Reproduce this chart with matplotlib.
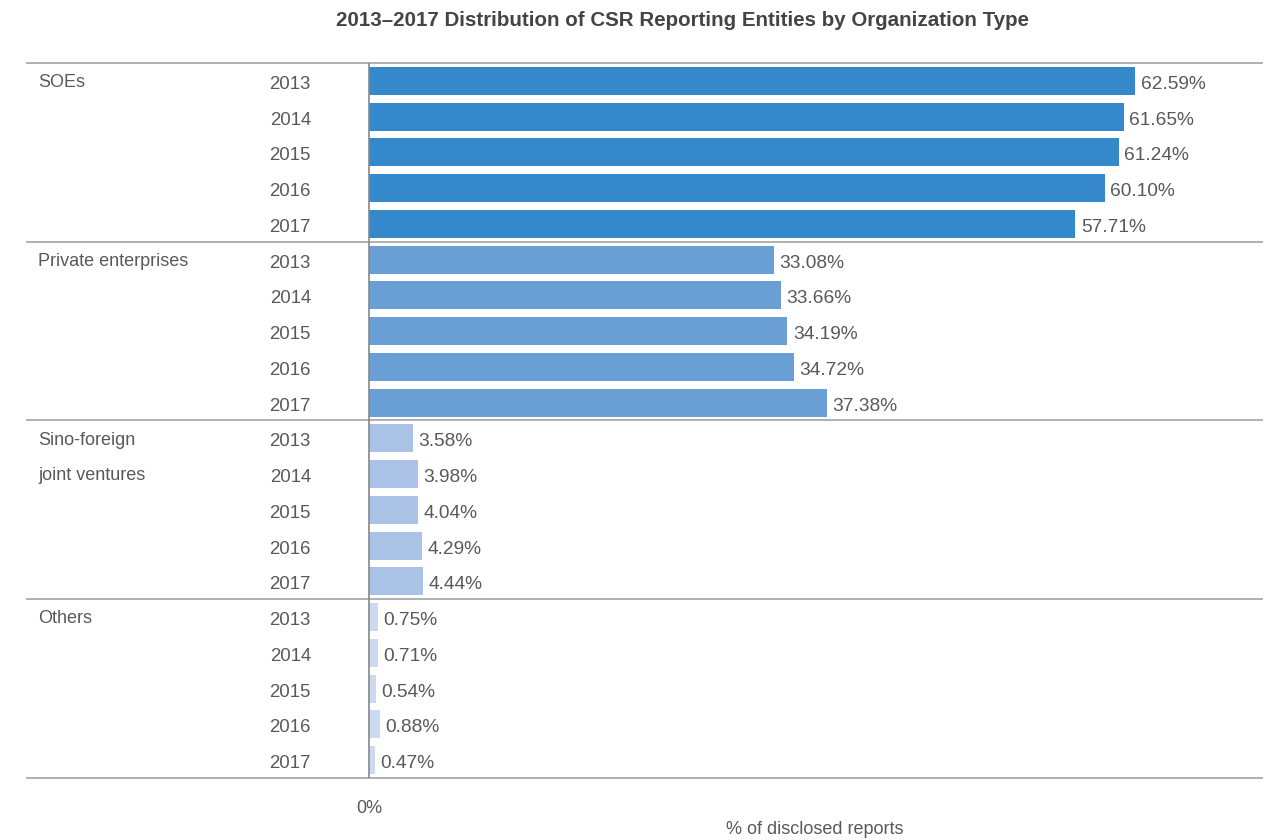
import matplotlib
matplotlib.use("Agg")
import matplotlib.pyplot as plt

groups = ["SOEs", "Private enterprises", "Sino-foreign\njoint ventures", "Others"]
years = ["2013", "2014", "2015", "2016", "2017"]
soes = [62.59, 61.65, 61.24, 60.10, 57.71]
private = [33.08, 33.66, 34.19, 34.72, 37.38]
sino = [3.58, 3.98, 4.04, 4.29, 4.44]
others = [0.75, 0.71, 0.54, 0.88, 0.47]
series = [soes, private, sino, others]
colors = ["#3589CA", "#6A9FD6", "#AAC2E6", "#CCDAF1"]
title = "2013\u20132017 Distribution of CSR Reporting Entities by Organization Type"
xlabel = "% of disclosed reports"

plt.rcParams['font.family'] = ['Liberation Sans', 'DejaVu Sans']
TXT = "#595959"
LINE = "#AAAAAA"

W, H = 1272, 840
fig = plt.figure(figsize=(W / 100, H / 100), dpi=100)
ax_left, ax_right = 27, 1262
ax_top, ax_bot = 63, 778
ax = fig.add_axes([ax_left / W, 1 - ax_bot / H, (ax_right - ax_left) / W, (ax_bot - ax_top) / H])

px_per = 12.24
x0 = 369
xmin = -(x0 - ax_left) / px_per
xmax = (ax_right - x0) / px_per
ax.set_xlim(xmin, xmax)
nrows = len(groups) * len(years)
ax.set_ylim(nrows - 0.5, -0.5)

row = 0
for gi, (g, vals) in enumerate(zip(groups, series)):
    for yi, (yr, v) in enumerate(zip(years, vals)):
        ax.barh(row, v, height=0.78, color=colors[gi], linewidth=0)
        ax.text(v + 0.45, row + 0.1, f"{v:.2f}%", ha="left", va="center", fontsize=13.8, color=TXT)
        ax.text((311 - x0) / px_per, row + 0.1, yr, ha="right", va="center", fontsize=13.4, color=TXT)
        row += 1
    first = gi * len(years)
    lines = g.split("\n")
    for li, t in enumerate(lines):
        ax.text((38 - x0) / px_per, first + li + 0.05, t, ha="left", va="center", fontsize=13, color=TXT)

# separators
for b in range(len(groups) + 1):
    ax.axhline(b * len(years) - 0.5, color=LINE, linewidth=1.3, clip_on=False)
ax.axvline(0, color="#888888", linewidth=1.2)

for s in ax.spines.values():
    s.set_visible(False)
ax.set_yticks([])
ax.set_xticks([0])
ax.set_xticklabels(["0%"], fontsize=13, color=TXT)
ax.tick_params(axis="x", length=0, pad=16)

fig.text(683 / W, 1 - 21 / H, title, ha="center", va="center", fontsize=14.8, color="#444444", fontweight="bold")
fig.text(815 / W, 1 - 830 / H, xlabel, ha="center", va="center", fontsize=13, color=TXT)

fig.savefig("out.png", dpi=100)
